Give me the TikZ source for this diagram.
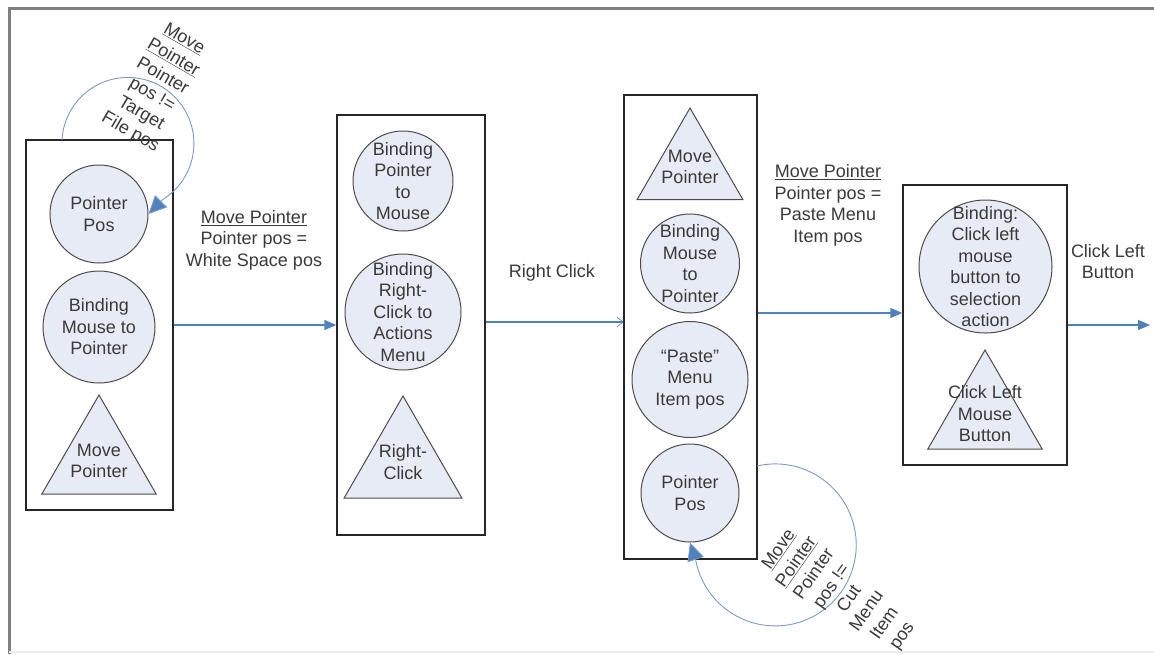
\documentclass[tikz,border=0pt]{standalone}
\usepackage{fontspec}
\setmainfont{Liberation Sans}
\usetikzlibrary{arrows.meta,shapes.geometric}

\definecolor{shapefill}{RGB}{231,235,245}
\definecolor{flowblue}{RGB}{79,129,189}
\definecolor{loopblue}{RGB}{122,154,200}
\definecolor{inkgray}{RGB}{58,58,58}

\tikzset{
  every node/.style={font=\fontsize{18}{21.5}\selectfont, text=inkgray},
  stage/.style={rectangle, draw=black!85, line width=1.3pt, inner sep=0pt},
  state/.style={circle, draw=black!70, line width=1pt, fill=shapefill, inner sep=0pt},
  action/.style={regular polygon, regular polygon sides=3, draw=black!70,
                 line width=1pt, fill=shapefill, inner sep=0pt},
  inside/.style={align=center, inner sep=0pt},
  flow/.style={draw=flowblue, line width=1.3pt, -{Triangle[length=12pt,width=10pt]}},
  flowopen/.style={draw=flowblue, line width=1.1pt, -{Straight Barb[length=6pt,width=10pt,line width=0.6pt]}},
  selfloop/.style={draw=loopblue, line width=0.9pt, -{Triangle[length=18pt,width=17pt,fill=flowblue]}},
}

\begin{document}
\begin{tikzpicture}[x=1pt, y=1pt]
  \useasboundingbox (0,0) rectangle (1154,-654);
  \fill[white] (0,0) rectangle (1154,-654);

  % frame
  \draw[black!50, line width=3pt] (1154,-8) -- (9,-8) -- (9,-654);
  \draw[black!7, line width=2pt] (9,-652) -- (1154,-652);

  % stage boxes
  \node[stage, minimum width=147pt, minimum height=370pt] (b1) at (99.5,-325) {};
  \node[stage, minimum width=148pt, minimum height=420pt] (b2) at (411,-325) {};
  \node[stage, minimum width=133pt, minimum height=464pt] (b3) at (690.5,-327) {};
  \node[stage, minimum width=164pt, minimum height=280pt] (b4) at (985,-325) {};

  % stage 1
  \node[state, minimum size=98pt, label={[inside]center:Pointer\\Pos}] (c1) at (99,-214) {};
  \node[state, minimum size=112pt, label={[inside]center:Binding\\Mouse to\\Pointer}] (c2) at (99,-327) {};
  \node[action, minimum size=132pt, label={[inside]center:Move\\Pointer}] (t1) at (99,-461) {};

  % stage 2
  \node[state, minimum size=100pt, label={[inside]center:Binding\\Pointer\\to\\Mouse}] (c3) at (403,-181) {};
  \node[state, minimum size=116pt, label={[inside]center:Binding\\Right-\\Click to\\Actions\\Menu}] (c4) at (403,-312) {};
  \node[action, minimum size=136pt, label={[inside,yshift=2pt]center:Right-\\Click}] (t2) at (403,-464) {};

  % stage 3
  \node[action, minimum size=122pt, label={[inside,yshift=2pt]center:Move\\Pointer}] (t3) at (690,-169) {};
  \node[state, minimum size=99pt, label={[inside]center:Binding\\Mouse\\to\\Pointer}] (c5) at (690,-263.5) {};
  \node[state, minimum size=116pt, label={[inside]center:“Paste”\\Menu\\Item pos}] (c6) at (690,-379.5) {};
  \node[state, minimum size=98pt, label={[inside]center:Pointer\\Pos}] (c7) at (690,-493) {};

  % stage 4
  \node[state, minimum size=133pt, label={[inside]center:Binding:\\Click left\\mouse\\button to\\selection\\action}] (c8) at (985.5,-266.5) {};
  \node[action, minimum size=132pt, label={[inside,yshift=2pt]center:Click Left\\Mouse\\Button}] (t4) at (985,-416) {};

  % transitions between stages
  \coordinate (lvl2) at (0,-322);
  \coordinate (lvl3) at (0,-313);
  \coordinate (exit) at (1150,-325);
  \draw[flow] (b1.east) -- (b2.west);
  \draw[flowopen] (b2.east |- lvl2) -- (b3.west |- lvl2);
  \draw[flow] (b3.east |- lvl3) -- (b4.west |- lvl3);
  \draw[flow] (b4.east) -- (exit);

  % self loops
  \coordinate (loopA) at (62,-140);
  \draw[selfloop] (loopA) arc[start angle=177, end angle=-58, radius=66pt] -- (c1.east);
  \coordinate (loopB) at (757,-466);
  \draw[selfloop] (loopB) arc[start angle=103, end angle=-170, radius=81pt] -- (c7.south);

  % transition labels
  \node[inside] (lab1) at (254,-240) {\underline{Move Pointer}\\Pointer pos =\\White Space pos};
  \node[inside] (lab2) at (552,-273) {Right Click};
  \node[inside] (lab3) at (828,-205.5) {\underline{Move Pointer}\\Pointer pos =\\Paste Menu\\Item pos};
  \node[inside] (lab4) at (1108,-261.5) {Click Left\\Button};
  \node[inside, rotate=-30] (lab5) at (157,-86)
    {\underline{Move}\\\underline{Pointer}\\Pointer\\pos !=\\Target\\File pos};
  \node[inside, rotate=55] (lab6) at (841,-593)
    {\underline{Move}\\\underline{Pointer}\\Pointer\\pos !=\\Cut\\Menu\\Item\\pos};
\end{tikzpicture}
\end{document}
